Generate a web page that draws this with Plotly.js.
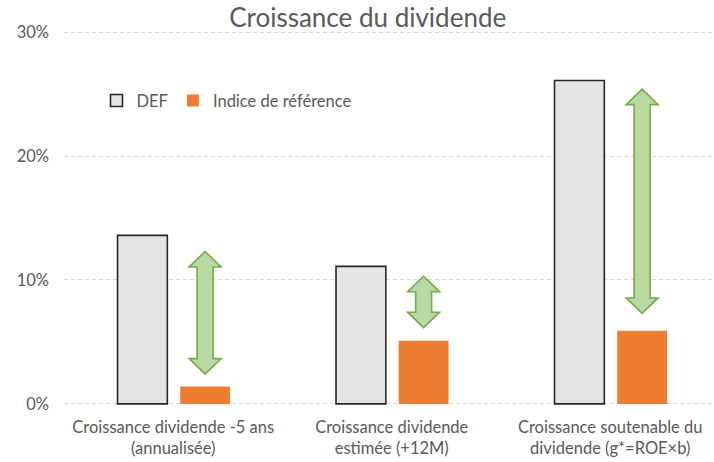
<!DOCTYPE html>
<html>
<head>
<meta charset="utf-8">
<script src="https://cdn.plot.ly/plotly-3.0.1.min.js"></script>
<style>html,body{margin:0;padding:0;background:#fff;}#chart{width:714px;height:462px;}</style>
</head>
<body>
<div id="chart"></div>
<script>
var categories = ["Croissance dividende -5 ans<br>(annualisée)", "Croissance dividende<br>estimée (+12M)", "Croissance soutenable du<br>dividende (g*=ROE×b)"];
var defValues = [13.6, 11.1, 26.1];
var indexValues = [1.4, 5.1, 5.9];
var arrowTop = [12.3, 10.3, 25.4];
var arrowBottom = [2.4, 6.15, 7.3];
var seriesNames = ["DEF", "Indice de référence"];
var yTicks = [0, 10, 20, 30];
var yTickLabels = ["0%", "10%", "20%", "30%"];

var FONT = "Lato, 'Open Sans', sans-serif";
var TXT = "#595959";
var xIdx = categories.map(function(_, i){ return i; });

var traces = [
  {type: "bar", name: seriesNames[0], x: xIdx, y: defValues,
   offset: -0.255, width: 0.228,
   marker: {color: "#e4e4e4", line: {color: "#262626", width: 1.6}}},
  {type: "bar", name: seriesNames[1], x: xIdx, y: indexValues,
   offset: 0.032, width: 0.228,
   marker: {color: "#ed7d31", line: {width: 0}}}
];

var pxPerUnit = 372 / 30;
var headLen = 15.5 / pxPerUnit;
var shapes = arrowTop.map(function(top, i){
  var bot = arrowBottom[i];
  var p = "M0," + top +
    " L16," + (top - headLen) + " L8," + (top - headLen) +
    " L8," + (bot + headLen) + " L16," + (bot + headLen) +
    " L0," + bot +
    " L-16," + (bot + headLen) + " L-8," + (bot + headLen) +
    " L-8," + (top - headLen) + " L-16," + (top - headLen) + " Z";
  return {type: "path", xref: "x", yref: "y", xsizemode: "pixel", xanchor: i + 0.146,
          path: p, fillcolor: "rgba(169,208,142,0.82)", line: {color: "#70ad47", width: 1.6}, layer: "above"};
});

var layout = {
  width: 714, height: 462,
  margin: {l: 64, r: 0, t: 29, b: 55, pad: 0},
  paper_bgcolor: "#fff", plot_bgcolor: "#fff",
  font: {family: FONT, color: TXT, size: 16.5},
  title: {text: "Croissance du dividende", font: {family: FONT, size: 26, color: TXT},
          x: 0.515, xanchor: "center", y: 1 - 18/462, yanchor: "middle", yref: "container"},
  showlegend: true,
  legend: {orientation: "h", x: 0.05, xanchor: "left", y: 0.81, yanchor: "middle",
           font: {family: FONT, size: 16.5, color: TXT}, bgcolor: "rgba(0,0,0,0)", itemwidth: 30,
           traceorder: "normal"},
  xaxis: {type: "linear", range: [-0.5, 2.475], tickmode: "array", tickvals: xIdx, ticktext: categories,
          showgrid: false, zeroline: false, showline: false, ticks: "", ticklabelstandoff: 8,
          tickfont: {family: FONT, size: 16.5, color: TXT}, fixedrange: true},
  yaxis: {range: [-0.25, 30.25], tickmode: "array", tickvals: yTicks, ticktext: yTickLabels,
          showgrid: true, gridcolor: "#d9d9d9", griddash: "4px,3px", gridwidth: 1,
          zeroline: false, showline: false, ticks: "", ticklabelstandoff: 14,
          tickfont: {family: FONT, size: 16.5, color: TXT}, fixedrange: true},
  shapes: shapes
};

Plotly.newPlot("chart", traces, layout, {displayModeBar: false, staticPlot: true});
</script>
</body>
</html>
